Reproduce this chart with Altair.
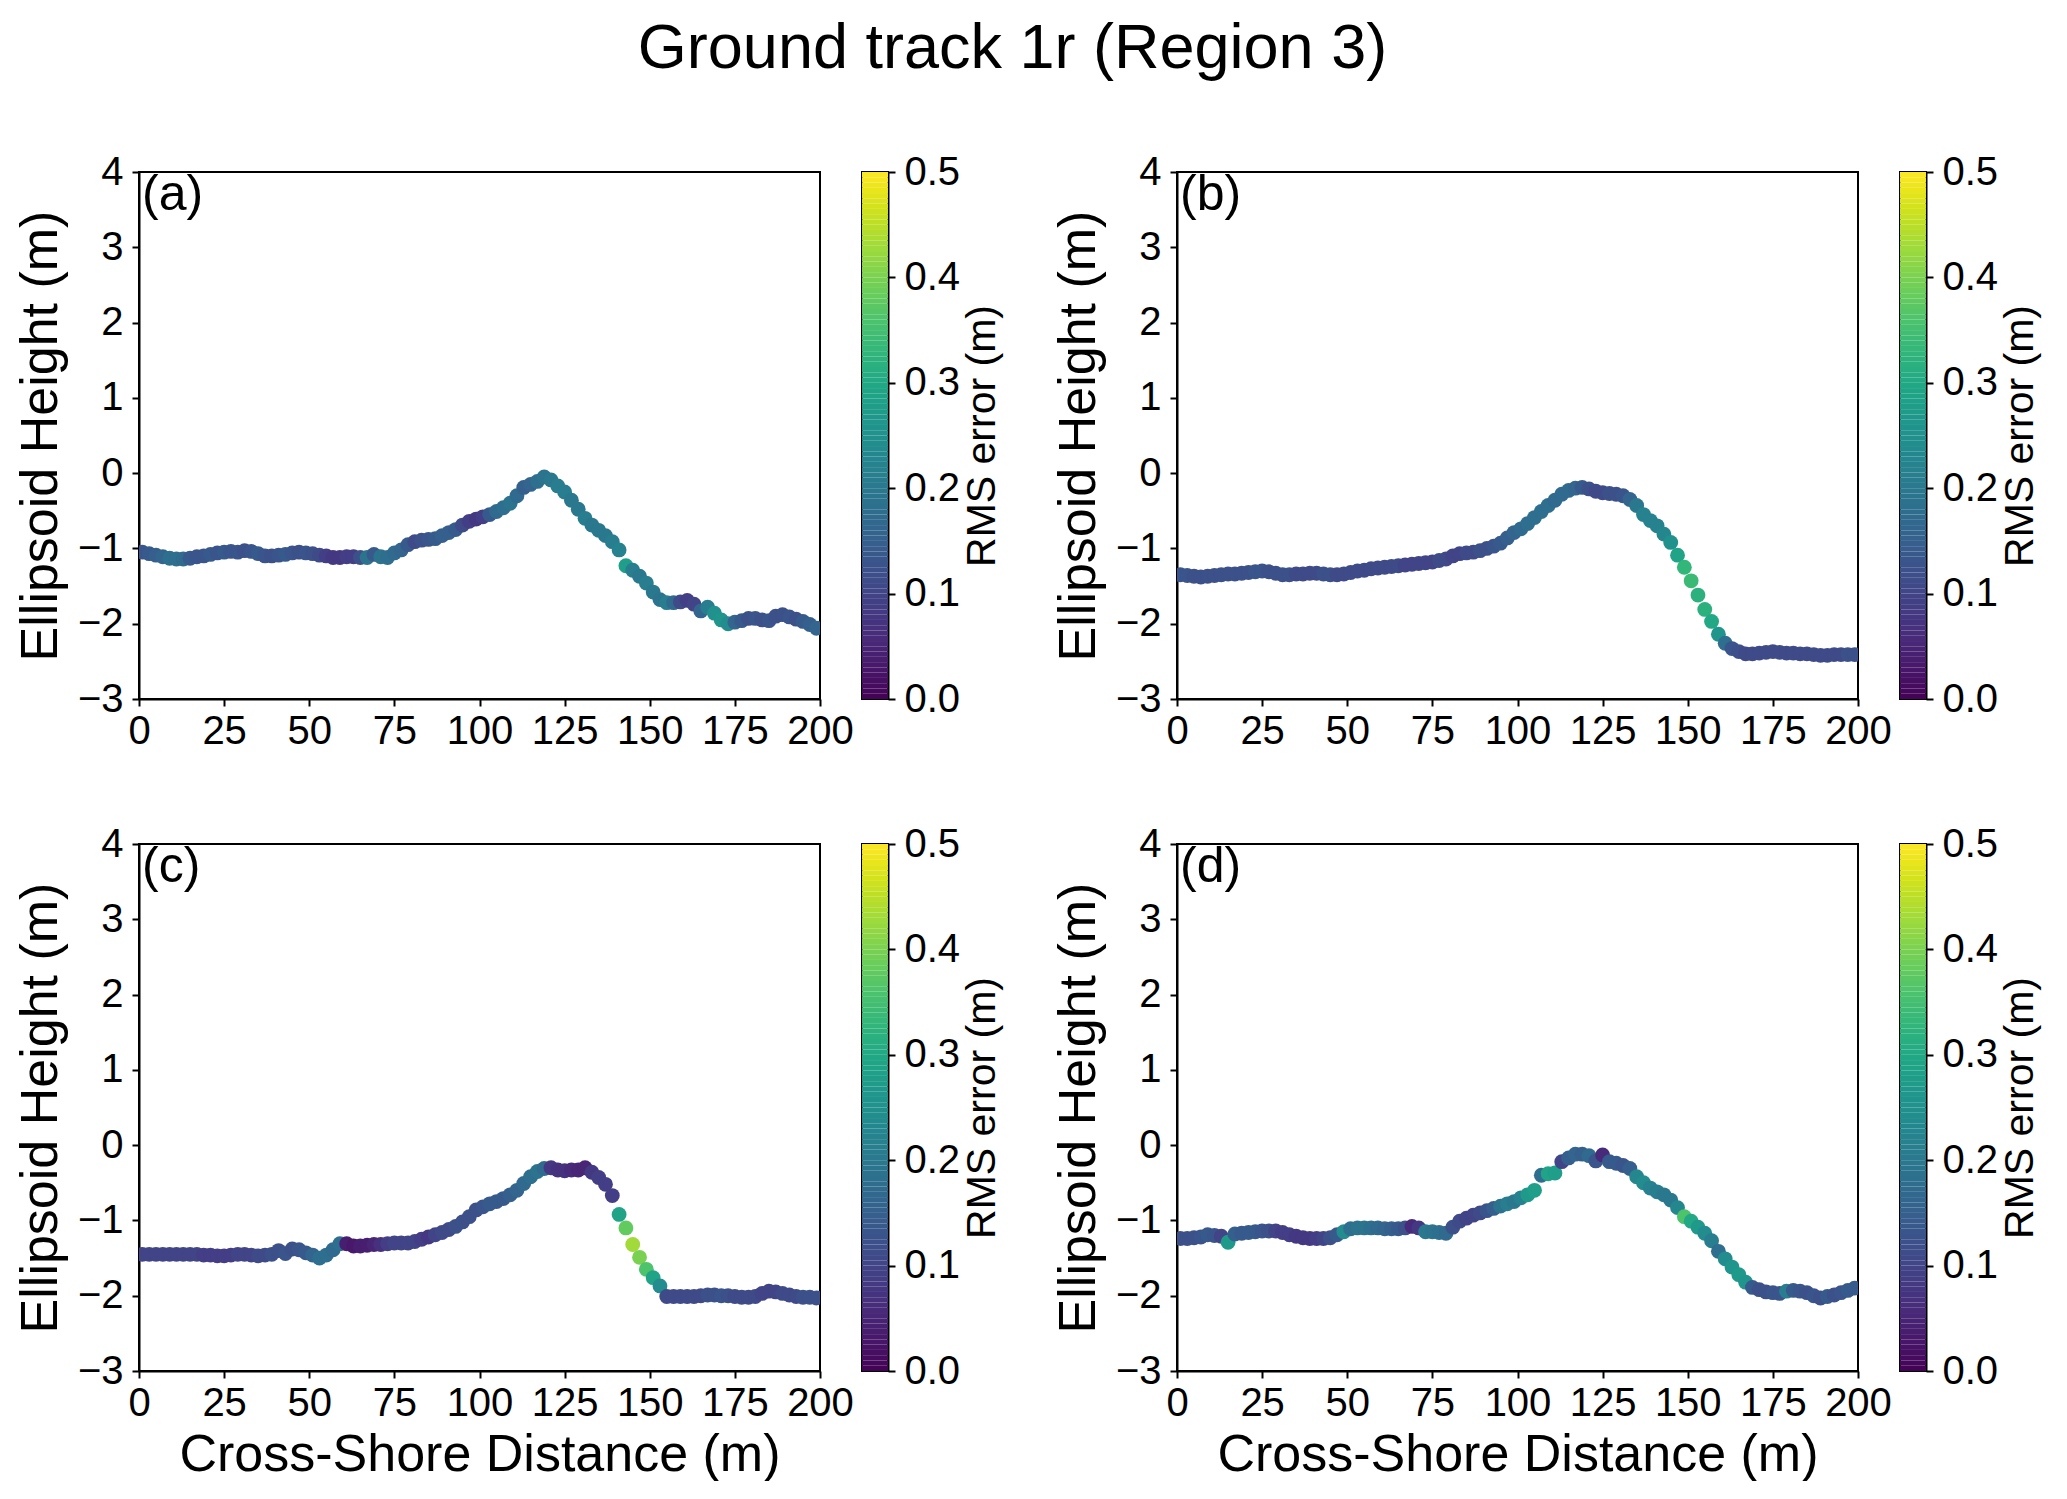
import altair as alt
import numpy as np
import pandas as pd

FONT = "Liberation Sans"

# cross-shore position of each ground-track bin (m)
DIST = [
    1, 3, 5, 7, 9, 11, 13, 15, 17, 19,
    21, 23, 25, 27, 29, 31, 33, 35, 37, 39,
    41, 43, 45, 47, 49, 51, 53, 55, 57, 59,
    61, 63, 65, 67, 69, 71, 73, 75, 77, 79,
    81, 83, 85, 87, 89, 91, 93, 95, 97, 99,
    101, 103, 105, 107, 109, 111, 113, 115, 117, 119,
    121, 123, 125, 127, 129, 131, 133, 135, 137, 139,
    141, 143, 145, 147, 149, 151, 153, 155, 157, 159,
    161, 163, 165, 167, 169, 171, 173, 175, 177, 179,
    181, 183, 185, 187, 189, 191, 193, 195, 197, 199,
]

HEIGHT_A = [
    -1.05, -1.07, -1.09, -1.11, -1.13, -1.14, -1.14, -1.13, -1.11, -1.10,
    -1.08, -1.06, -1.05, -1.04, -1.05, -1.03, -1.04, -1.07, -1.10, -1.10,
    -1.09, -1.08, -1.06, -1.05, -1.06, -1.07, -1.09, -1.10, -1.12, -1.12,
    -1.11, -1.11, -1.12, -1.12, -1.08, -1.11, -1.12, -1.06, -1.02, -0.95,
    -0.91, -0.89, -0.88, -0.87, -0.83, -0.79, -0.75, -0.69, -0.64, -0.61,
    -0.58, -0.55, -0.51, -0.46, -0.40, -0.30, -0.19, -0.15, -0.11, -0.05,
    -0.09, -0.17, -0.25, -0.36, -0.48, -0.60, -0.69, -0.76, -0.83, -0.91,
    -1.02, -1.23, -1.29, -1.37, -1.46, -1.58, -1.68, -1.72, -1.72, -1.71,
    -1.69, -1.74, -1.83, -1.78, -1.86, -1.95, -2.00, -1.98, -1.96, -1.93,
    -1.93, -1.95, -1.96, -1.90, -1.88, -1.91, -1.94, -1.97, -2.01, -2.06,
]
RMS_A = [
    0.13, 0.14, 0.15, 0.16, 0.18, 0.18, 0.17, 0.14, 0.13, 0.13,
    0.14, 0.13, 0.14, 0.13, 0.13, 0.12, 0.13, 0.14, 0.13, 0.12,
    0.13, 0.14, 0.13, 0.12, 0.13, 0.12, 0.11, 0.09, 0.08, 0.08,
    0.09, 0.09, 0.12, 0.19, 0.14, 0.19, 0.18, 0.17, 0.16, 0.14,
    0.11, 0.12, 0.13, 0.14, 0.15, 0.15, 0.14, 0.11, 0.09, 0.08,
    0.09, 0.14, 0.17, 0.18, 0.19, 0.17, 0.15, 0.16, 0.18, 0.19,
    0.20, 0.21, 0.21, 0.20, 0.20, 0.21, 0.20, 0.20, 0.20, 0.21,
    0.22, 0.28, 0.21, 0.20, 0.21, 0.20, 0.19, 0.21, 0.17, 0.11,
    0.09, 0.10, 0.16, 0.21, 0.25, 0.26, 0.24, 0.16, 0.14, 0.12,
    0.13, 0.12, 0.13, 0.12, 0.12, 0.13, 0.12, 0.14, 0.15, 0.16,
]

HEIGHT_B = [
    -1.35, -1.36, -1.37, -1.38, -1.37, -1.36, -1.35, -1.34, -1.34, -1.33,
    -1.32, -1.31, -1.30, -1.31, -1.33, -1.35, -1.35, -1.34, -1.34, -1.33,
    -1.33, -1.34, -1.35, -1.35, -1.34, -1.32, -1.30, -1.29, -1.27, -1.26,
    -1.25, -1.24, -1.23, -1.22, -1.21, -1.20, -1.19, -1.18, -1.16, -1.14,
    -1.10, -1.07, -1.06, -1.05, -1.03, -1.00, -0.97, -0.93, -0.86, -0.79,
    -0.74, -0.67, -0.59, -0.51, -0.43, -0.36, -0.28, -0.23, -0.20, -0.19,
    -0.21, -0.24, -0.26, -0.27, -0.28, -0.30, -0.35, -0.43, -0.55, -0.63,
    -0.70, -0.81, -0.92, -1.09, -1.25, -1.43, -1.62, -1.81, -1.97, -2.14,
    -2.26, -2.33, -2.37, -2.40, -2.40, -2.39, -2.38, -2.37, -2.38, -2.39,
    -2.39, -2.40, -2.40, -2.41, -2.42, -2.42, -2.41, -2.41, -2.41, -2.41,
]
RMS_B = [
    0.13, 0.13, 0.12, 0.12, 0.12, 0.12, 0.12, 0.12, 0.12, 0.12,
    0.12, 0.13, 0.13, 0.12, 0.12, 0.12, 0.12, 0.11, 0.11, 0.11,
    0.11, 0.12, 0.12, 0.11, 0.11, 0.11, 0.11, 0.11, 0.11, 0.11,
    0.11, 0.11, 0.11, 0.10, 0.10, 0.10, 0.10, 0.10, 0.11, 0.11,
    0.10, 0.10, 0.11, 0.11, 0.12, 0.12, 0.13, 0.14, 0.15, 0.16,
    0.17, 0.18, 0.18, 0.18, 0.18, 0.17, 0.17, 0.17, 0.16, 0.14,
    0.12, 0.11, 0.11, 0.12, 0.12, 0.13, 0.16, 0.20, 0.22, 0.22,
    0.22, 0.23, 0.25, 0.29, 0.33, 0.34, 0.32, 0.32, 0.30, 0.26,
    0.18, 0.13, 0.12, 0.11, 0.11, 0.11, 0.11, 0.11, 0.11, 0.11,
    0.11, 0.11, 0.11, 0.11, 0.11, 0.11, 0.11, 0.11, 0.12, 0.12,
]

HEIGHT_C = [
    -1.45, -1.45, -1.45, -1.45, -1.45, -1.45, -1.45, -1.45, -1.45, -1.46,
    -1.46, -1.47, -1.47, -1.46, -1.45, -1.45, -1.46, -1.47, -1.46, -1.45,
    -1.40, -1.44, -1.38, -1.39, -1.43, -1.46, -1.50, -1.46, -1.39, -1.31,
    -1.31, -1.34, -1.34, -1.33, -1.32, -1.32, -1.31, -1.30, -1.30, -1.30,
    -1.28, -1.25, -1.22, -1.19, -1.16, -1.12, -1.08, -1.02, -0.95, -0.86,
    -0.82, -0.78, -0.75, -0.71, -0.66, -0.60, -0.51, -0.42, -0.35, -0.31,
    -0.30, -0.33, -0.34, -0.33, -0.33, -0.30, -0.36, -0.43, -0.52, -0.67,
    -0.92, -1.10, -1.32, -1.49, -1.65, -1.76, -1.87, -2.01, -2.01, -2.01,
    -2.01, -2.01, -2.00, -1.99, -1.99, -2.00, -2.00, -2.01, -2.02, -2.02,
    -2.01, -1.97, -1.94, -1.95, -1.97, -1.99, -2.01, -2.02, -2.02, -2.03,
]
RMS_C = [
    0.10, 0.10, 0.10, 0.10, 0.10, 0.10, 0.10, 0.10, 0.10, 0.09,
    0.09, 0.09, 0.09, 0.09, 0.10, 0.10, 0.10, 0.11, 0.11, 0.12,
    0.12, 0.13, 0.12, 0.13, 0.14, 0.16, 0.18, 0.18, 0.17, 0.18,
    0.04, 0.03, 0.04, 0.04, 0.05, 0.07, 0.09, 0.10, 0.10, 0.10,
    0.10, 0.09, 0.08, 0.10, 0.11, 0.11, 0.12, 0.12, 0.12, 0.12,
    0.13, 0.14, 0.14, 0.14, 0.15, 0.16, 0.17, 0.18, 0.19, 0.17,
    0.08, 0.07, 0.07, 0.06, 0.05, 0.05, 0.08, 0.09, 0.09, 0.09,
    0.29, 0.38, 0.43, 0.40, 0.36, 0.29, 0.24, 0.11, 0.11, 0.11,
    0.11, 0.11, 0.11, 0.12, 0.12, 0.13, 0.12, 0.11, 0.11, 0.11,
    0.11, 0.10, 0.10, 0.10, 0.11, 0.11, 0.11, 0.12, 0.12, 0.12,
]

HEIGHT_D = [
    -1.24, -1.24, -1.23, -1.22, -1.19, -1.20, -1.21, -1.29, -1.18, -1.17,
    -1.16, -1.15, -1.14, -1.14, -1.14, -1.16, -1.19, -1.21, -1.23, -1.24,
    -1.24, -1.24, -1.23, -1.19, -1.15, -1.11, -1.10, -1.10, -1.10, -1.10,
    -1.11, -1.11, -1.11, -1.10, -1.08, -1.10, -1.15, -1.15, -1.16, -1.17,
    -1.09, -1.01, -0.97, -0.93, -0.90, -0.87, -0.84, -0.81, -0.78, -0.75,
    -0.70, -0.66, -0.60, -0.40, -0.38, -0.37, -0.22, -0.17, -0.12, -0.12,
    -0.14, -0.21, -0.13, -0.22, -0.24, -0.27, -0.31, -0.42, -0.50, -0.57,
    -0.62, -0.66, -0.73, -0.83, -0.95, -1.01, -1.09, -1.17, -1.27, -1.41,
    -1.51, -1.62, -1.72, -1.82, -1.89, -1.92, -1.95, -1.96, -1.97, -1.94,
    -1.93, -1.94, -1.96, -2.00, -2.03, -2.01, -1.99, -1.96, -1.93, -1.90,
]
RMS_D = [
    0.12, 0.12, 0.12, 0.13, 0.14, 0.13, 0.10, 0.27, 0.15, 0.14,
    0.14, 0.14, 0.13, 0.12, 0.10, 0.09, 0.09, 0.08, 0.08, 0.08,
    0.09, 0.10, 0.12, 0.14, 0.24, 0.18, 0.19, 0.19, 0.18, 0.17,
    0.16, 0.15, 0.14, 0.12, 0.06, 0.08, 0.20, 0.19, 0.18, 0.17,
    0.12, 0.11, 0.10, 0.10, 0.11, 0.13, 0.15, 0.19, 0.21, 0.20,
    0.22, 0.27, 0.28, 0.18, 0.29, 0.28, 0.10, 0.15, 0.16, 0.15,
    0.17, 0.13, 0.06, 0.14, 0.14, 0.13, 0.15, 0.23, 0.24, 0.22,
    0.21, 0.20, 0.20, 0.23, 0.36, 0.30, 0.27, 0.24, 0.21, 0.18,
    0.24, 0.26, 0.27, 0.26, 0.14, 0.12, 0.12, 0.13, 0.13, 0.21,
    0.14, 0.13, 0.12, 0.13, 0.12, 0.14, 0.12, 0.13, 0.14, 0.14,
]

X_TICKS = [0, 25, 50, 75, 100, 125, 150, 175, 200]
Y_TICKS = [-3, -2, -1, 0, 1, 2, 3, 4]
CBAR_TICKS = [0.0, 0.1, 0.2, 0.3, 0.4, 0.5]

PLOT_W, PLOT_H = 681, 527
CBAR_W = 26

rms_scale = alt.Scale(scheme="viridis", domain=[0, 0.5])

# colour bar swatches
edges = np.linspace(0, 0.5, 101)
cbar_df = pd.DataFrame({"lo": edges[:-1], "hi": edges[1:],
                        "mid": (edges[:-1] + edges[1:]) / 2})


def panel(tag, height, rms, show_xtitle):
    df = pd.DataFrame({"dist": DIST, "height": height, "rms": rms})
    if show_xtitle:
        xaxis = alt.Axis(values=X_TICKS, title="Cross-Shore Distance (m)")
    else:
        xaxis = alt.Axis(values=X_TICKS, title=None)
    pts = alt.Chart(df).mark_circle(size=220, opacity=1, clip=True).encode(
        x=alt.X("dist:Q", scale=alt.Scale(domain=[0, 200], nice=False), axis=xaxis),
        y=alt.Y("height:Q", scale=alt.Scale(domain=[-3, 4], nice=False),
                axis=alt.Axis(values=Y_TICKS, title="Ellipsoid Height (m)")),
        color=alt.Color("rms:Q", scale=rms_scale, legend=None),
    )
    label = alt.Chart(pd.DataFrame({"tag": [tag]})).mark_text(
        align="left", baseline="top", fontSize=50, font=FONT, color="black", dx=3, dy=-2
    ).encode(text="tag:N", x=alt.value(0), y=alt.value(0))
    plot = alt.layer(pts, label).properties(width=PLOT_W, height=PLOT_H)

    cbar = alt.Chart(cbar_df).mark_rect().encode(
        x=alt.value(0), x2=alt.value(CBAR_W),
        y=alt.Y("lo:Q", scale=alt.Scale(domain=[0, 0.5], nice=False),
                axis=alt.Axis(orient="right", values=CBAR_TICKS, format=".1f",
                              title="RMS error (m)", titleAngle=270,
                              titleBaseline="top", titleFontSize=41,
                              titlePadding=3)),
        y2="hi:Q",
        color=alt.Color("mid:Q", scale=rms_scale, legend=None),
    ).properties(width=CBAR_W, height=PLOT_H)

    # the "200" tick label already sticks out past the frame, hence the small gap
    return alt.hconcat(plot, cbar, spacing=6).resolve_scale(y="independent", x="independent")


top = alt.hconcat(panel("(a)", HEIGHT_A, RMS_A, False),
                  panel("(b)", HEIGHT_B, RMS_B, False), spacing=47)
bottom = alt.hconcat(panel("(c)", HEIGHT_C, RMS_C, True),
                     panel("(d)", HEIGHT_D, RMS_D, True), spacing=47)

chart = alt.vconcat(top, bottom, spacing=71).properties(
    title=alt.TitleParams("Ground track 1r (Region 3)", anchor="middle", dx=-15),
    padding={"left": 5, "top": 10, "right": 0, "bottom": 0},
    background="white",
).configure_axis(
    labelFont=FONT, titleFont=FONT, labelFontSize=40, titleFontSize=52,
    labelColor="black", titleColor="black", tickColor="black", domainColor="black",
    tickSize=7, tickWidth=2, domainWidth=2, titlePadding=10,
    grid=False, titleFontWeight="normal", labelFlush=False, labelOverlap=False,
    labelBound=False,
).configure_axisX(
    labelPadding=5, titlePadding=6,
).configure_axisY(
    labelPadding=9,
).configure_view(
    stroke="black", strokeWidth=2,
).configure_title(
    font=FONT, fontSize=63, fontWeight="normal", color="black", offset=70,
)

chart.save("out.html", embed_options={"renderer": "svg", "actions": False})
